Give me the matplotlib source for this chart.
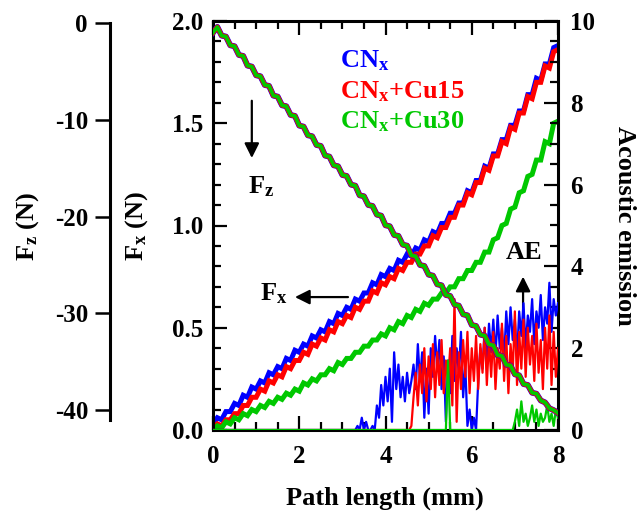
import numpy as np
import matplotlib
matplotlib.use('Agg')
import matplotlib.pyplot as plt
from matplotlib.ticker import MultipleLocator

plt.rcParams['font.family'] = 'Liberation Serif'
plt.rcParams['font.weight'] = 'bold'
plt.rcParams['mathtext.fontset'] = 'custom'
plt.rcParams['mathtext.rm'] = 'Liberation Serif:bold'
plt.rcParams['mathtext.bf'] = 'Liberation Serif:bold'
plt.rcParams['mathtext.it'] = 'Liberation Serif:bold'
plt.rcParams['axes.unicode_minus'] = False

# Path length grid for force signals (mm), 0.1 mm sampling
x_force = np.round(np.arange(0, 8.0001, 0.1), 2)

# Fx (N)
fx_cnx = [0.03, 0.06, 0.05, 0.09, 0.09, 0.13, 0.12, 0.17, 0.16, 0.21,
          0.20, 0.24, 0.23, 0.28, 0.27, 0.31, 0.30, 0.35, 0.34, 0.39,
          0.38, 0.42, 0.41, 0.46, 0.45, 0.49, 0.48, 0.53, 0.52, 0.57,
          0.56, 0.60, 0.59, 0.64, 0.63, 0.67, 0.67, 0.72, 0.71, 0.76,
          0.75, 0.79, 0.78, 0.83, 0.82, 0.86, 0.85, 0.89, 0.88, 0.93,
          0.92, 0.97, 0.96, 1.01, 1.01, 1.06, 1.06, 1.11, 1.11, 1.17,
          1.16, 1.22, 1.22, 1.29, 1.28, 1.35, 1.35, 1.42, 1.42, 1.49,
          1.49, 1.56, 1.56, 1.64, 1.64, 1.72, 1.71, 1.79, 1.79, 1.87,
          1.88]
fx_cu15 = [0.01, 0.03, 0.02, 0.05, 0.05, 0.08, 0.08, 0.12, 0.12, 0.16,
           0.16, 0.20, 0.19, 0.24, 0.23, 0.27, 0.26, 0.31, 0.30, 0.34,
           0.34, 0.38, 0.37, 0.42, 0.41, 0.45, 0.44, 0.49, 0.48, 0.53,
           0.52, 0.56, 0.55, 0.60, 0.59, 0.63, 0.63, 0.68, 0.67, 0.72,
           0.71, 0.75, 0.74, 0.79, 0.78, 0.82, 0.82, 0.86, 0.86, 0.90,
           0.90, 0.95, 0.94, 0.99, 0.99, 1.04, 1.04, 1.10, 1.10, 1.16,
           1.15, 1.21, 1.21, 1.28, 1.27, 1.34, 1.34, 1.41, 1.40, 1.48,
           1.47, 1.55, 1.55, 1.63, 1.62, 1.70, 1.70, 1.78, 1.77, 1.85,
           1.86]
fx_cu30 = [0.00, 0.02, 0.01, 0.04, 0.03, 0.06, 0.05, 0.08, 0.07, 0.10,
           0.09, 0.12, 0.11, 0.14, 0.13, 0.16, 0.15, 0.18, 0.17, 0.20,
           0.19, 0.23, 0.22, 0.25, 0.24, 0.27, 0.27, 0.30, 0.29, 0.33,
           0.32, 0.35, 0.35, 0.38, 0.38, 0.41, 0.41, 0.44, 0.44, 0.47,
           0.46, 0.50, 0.49, 0.53, 0.52, 0.56, 0.55, 0.59, 0.58, 0.62,
           0.61, 0.64, 0.64, 0.67, 0.67, 0.70, 0.70, 0.74, 0.74, 0.78,
           0.78, 0.82, 0.82, 0.87, 0.87, 0.93, 0.94, 1.00, 1.01, 1.08,
           1.09, 1.16, 1.17, 1.24, 1.25, 1.32, 1.32, 1.41, 1.40, 1.50,
           1.51]

# Fz (N), normal load ramp (same for all three coatings)
fz = [-1.0, -0.4, -1.3, -1.4, -2.3, -2.4, -3.3, -3.4, -4.4, -4.5,
      -5.4, -5.5, -6.4, -6.5, -7.5, -7.6, -8.5, -8.6, -9.5, -9.6,
      -10.6, -10.7, -11.6, -11.7, -12.6, -12.7, -13.7, -13.8, -14.7, -14.8,
      -15.7, -15.8, -16.7, -16.8, -17.8, -17.9, -18.8, -18.9, -19.8, -19.9,
      -20.9, -21.0, -21.9, -22.0, -22.9, -23.0, -24.0, -24.1, -25.0, -25.1,
      -26.0, -26.1, -27.0, -27.1, -28.1, -28.2, -29.1, -29.2, -30.1, -30.2,
      -31.2, -31.3, -32.2, -32.3, -33.2, -33.3, -34.3, -34.4, -35.3, -35.4,
      -36.3, -36.4, -37.3, -37.4, -38.2, -38.3, -39.0, -39.2, -39.8, -40.0,
      -40.3]

# Acoustic emission, 0.05 mm sampling from 3.0 mm (zero before)
x_ae = np.concatenate([[0.0], np.round(np.arange(3.0, 8.0001, 0.05), 2)])
ae_cnx = [0.0,
          0.0, 0.0, 0.0, 0.0, 0.0, 0.0, 0.0, 0.1, 0.0, 0.3,
          0.0, 0.2, 0.0, 0.0, 0.1, 0.0, 0.6, 0.3, 1.1, 0.6,
          1.3, 0.7, 1.5, 0.2, 1.9, 1.0, 1.6, 0.8, 1.3, 0.7,
          1.4, 0.9, 1.2, 1.6, 1.0, 2.1, 1.2, 1.9, 0.3, 1.5,
          0.4, 2.0, 1.3, 2.3, 1.5, 2.2, 1.0, 1.8, 0.2, 1.7,
          0.9, 2.3, 1.2, 2.0, 1.4, 2.4, 0.8, 1.6, 0.1, 0.5,
          0.0, 0.3, 0.0, 1.2, 2.0, 1.5, 2.5, 1.6, 2.6, 1.9,
          2.7, 1.8, 2.8, 2.0, 2.5, 1.7, 2.9, 2.1, 3.0, 2.2,
          2.7, 1.8, 2.9, 2.3, 3.1, 2.0, 2.8, 2.4, 3.2, 2.1,
          2.9, 2.5, 3.3, 2.2, 3.0, 2.6, 3.6, 2.4, 3.2, 2.8,
          3.1]
ae_cu15 = [0.0,
           0.0, 0.0, 0.0, 0.0, 0.0, 0.0, 0.0, 0.0, 0.0, 0.0,
           0.0, 0.0, 0.0, 0.0, 0.0, 0.0, 0.0, 0.0, 0.0, 0.0,
           0.0, 0.0, 0.0, 0.0, 0.0, 0.0, 0.0, 0.0, 0.0, 0.0,
           0.0, 0.0, 0.1, 0.8, 1.4, 0.6, 1.6, 0.9, 2.0, 0.7,
           1.8, 1.0, 2.1, 0.8, 1.9, 1.1, 2.2, 0.9, 1.7, 1.2,
           2.0, 0.6, 3.2, 0.2, 1.9, 1.0, 2.2, 1.3, 2.4, 0.9,
           2.0, 1.2, 2.3, 1.0, 2.1, 1.4, 2.5, 1.1, 2.2, 1.3,
           2.4, 1.0, 2.0, 1.5, 2.6, 1.2, 2.3, 0.9, 2.1, 1.4,
           2.9, 1.1, 2.4, 1.5, 2.7, 1.3, 2.5, 1.6, 2.3, 1.2,
           2.6, 1.4, 2.2, 1.0, 2.5, 1.5, 2.8, 1.1, 2.4, 1.3,
           2.0]
ae_cu30 = [0.0,
           0.0, 0.0, 0.0, 0.0, 0.0, 0.0, 0.0, 0.0, 0.0, 0.0,
           0.0, 0.0, 0.0, 0.0, 0.0, 0.0, 0.0, 0.0, 0.0, 0.0,
           0.0, 0.0, 0.0, 0.0, 0.0, 0.0, 0.0, 0.0, 0.0, 0.0,
           0.0, 0.0, 0.0, 0.0, 0.0, 0.0, 0.0, 0.0, 0.0, 0.0,
           0.0, 0.0, 0.0, 0.0, 0.0, 0.0, 0.0, 0.0, 0.0, 1.7,
           0.0, 0.0, 0.0, 0.0, 0.0, 0.0, 0.0, 0.0, 0.0, 0.0,
           0.0, 0.0, 0.0, 0.0, 0.0, 0.0, 0.0, 0.0, 0.0, 0.0,
           0.0, 0.0, 0.0, 0.0, 0.0, 0.0, 0.0, 0.0, 0.0, 0.0,
           0.2, 0.5, 0.1, 0.7, 0.2, 0.4, 0.1, 0.3, 0.6, 0.2,
           0.5, 0.1, 0.4, 0.2, 0.3, 0.6, 0.2, 0.4, 0.1, 0.5,
           0.3]

series_names = ['CN$_{\\rm x}$', 'CN$_{\\rm x}$+Cu15', 'CN$_{\\rm x}$+Cu30']
colors = ['#0000ff', '#ff0000', '#00c800']

fig = plt.figure(figsize=(6.4, 5.13), dpi=100)
W, H = 640.0, 513.0
ax = fig.add_axes([213 / W, 1 - 430 / H, 345 / W, 409 / H])

# Fx curves
for y, c in zip([fx_cnx, fx_cu15, fx_cu30], colors):
    ax.plot(x_force, y, color=c, lw=3.6, solid_joinstyle='miter')

ax.set_xlim(0, 8)
ax.set_ylim(0, 2.0)
ax.xaxis.set_major_locator(MultipleLocator(2))
ax.xaxis.set_minor_locator(MultipleLocator(0.5))
ax.yaxis.set_major_locator(MultipleLocator(0.5))
ax.yaxis.set_minor_locator(MultipleLocator(0.1))
ax.yaxis.set_major_formatter(plt.FormatStrFormatter('%.1f'))
ax.tick_params(which='both', direction='in', top=True, right=False, width=1.6, labelsize=18)
ax.tick_params(which='major', length=10, pad=7)
ax.tick_params(which='minor', length=5.5)
ax.tick_params(axis='x', pad=11)
for s in ax.spines.values():
    s.set_linewidth(2.2)

# Acoustic emission on right axis
ax_ae = ax.twinx()
for y, c in zip([ae_cnx, ae_cu15, ae_cu30], colors):
    ax_ae.plot(x_ae, y, color=c, lw=1.6)
ax_ae.set_ylim(0, 10)
ax_ae.yaxis.set_major_locator(MultipleLocator(2))
ax_ae.yaxis.set_minor_locator(MultipleLocator(0.5))
ax_ae.tick_params(which='both', direction='in', width=1.6, labelsize=18)
ax_ae.tick_params(which='major', length=10, pad=9)
ax_ae.tick_params(which='minor', length=5.5)
for s in ax_ae.spines.values():
    s.set_visible(False)

# Fz on a detached left axis
ax_fz = ax.twinx()
for lw, c in zip([4.2, 3.6, 2.6], colors):
    ax_fz.plot(x_force, fz, color=c, lw=lw)
ax_fz.set_ylim(-42.05, 0.21)
ax_fz.yaxis.set_ticks_position('left')
ax_fz.yaxis.set_label_position('left')
ax_fz.set_yticks([0, -10, -20, -30, -40])
for k in ['right', 'top', 'bottom']:
    ax_fz.spines[k].set_visible(False)
ax_fz.spines['left'].set_position(('outward', 74))
ax_fz.spines['left'].set_bounds(-41, 0)
ax_fz.spines['left'].set_linewidth(2.2)
ax_fz.tick_params(axis='y', direction='out', length=11, width=1.8, pad=5, labelsize=18)

# Axis titles
fig.text(385 / W, 1 - 498 / H, 'Path length (mm)', ha='center', va='center', fontsize=19)
fig.text(137 / W, 1 - 226 / H, 'F$_{\\rm x}$ (N)', ha='center', va='center', rotation=90, fontsize=19)
fig.text(28 / W, 1 - 226 / H, 'F$_{\\rm z}$ (N)', ha='center', va='center', rotation=90, fontsize=19)
fig.text(624 / W, 1 - 226 / H, 'Acoustic emission', ha='center', va='center', rotation=270, fontsize=19)

# Legend as colored text
for name, c, yb in zip(series_names, colors, [1.775, 1.623, 1.477]):
    ax.text(2.95, yb, name, color=c, fontsize=19, ha='left', va='baseline')

# Arrows marking which axis each curve belongs to
arw = dict(arrowstyle='-|>', color='k', lw=1.6, mutation_scale=22, shrinkA=0, shrinkB=0)
ax.annotate('', xy=(0.9, 1.33), xytext=(0.9, 1.61), arrowprops=arw)
ax.text(1.11, 1.19, 'F$_{\\rm z}$', fontsize=19, ha='center', va='center')
ax.annotate('', xy=(1.9, 0.65), xytext=(3.13, 0.65), arrowprops=arw)
ax.text(1.42, 0.665, 'F$_{\\rm x}$', fontsize=19, ha='center', va='center')
ax.annotate('', xy=(7.19, 0.75), xytext=(7.19, 0.50), arrowprops=arw)
ax.text(7.21, 0.87, 'AE', fontsize=19, ha='center', va='center')

fig.savefig('out.png', dpi=100)
